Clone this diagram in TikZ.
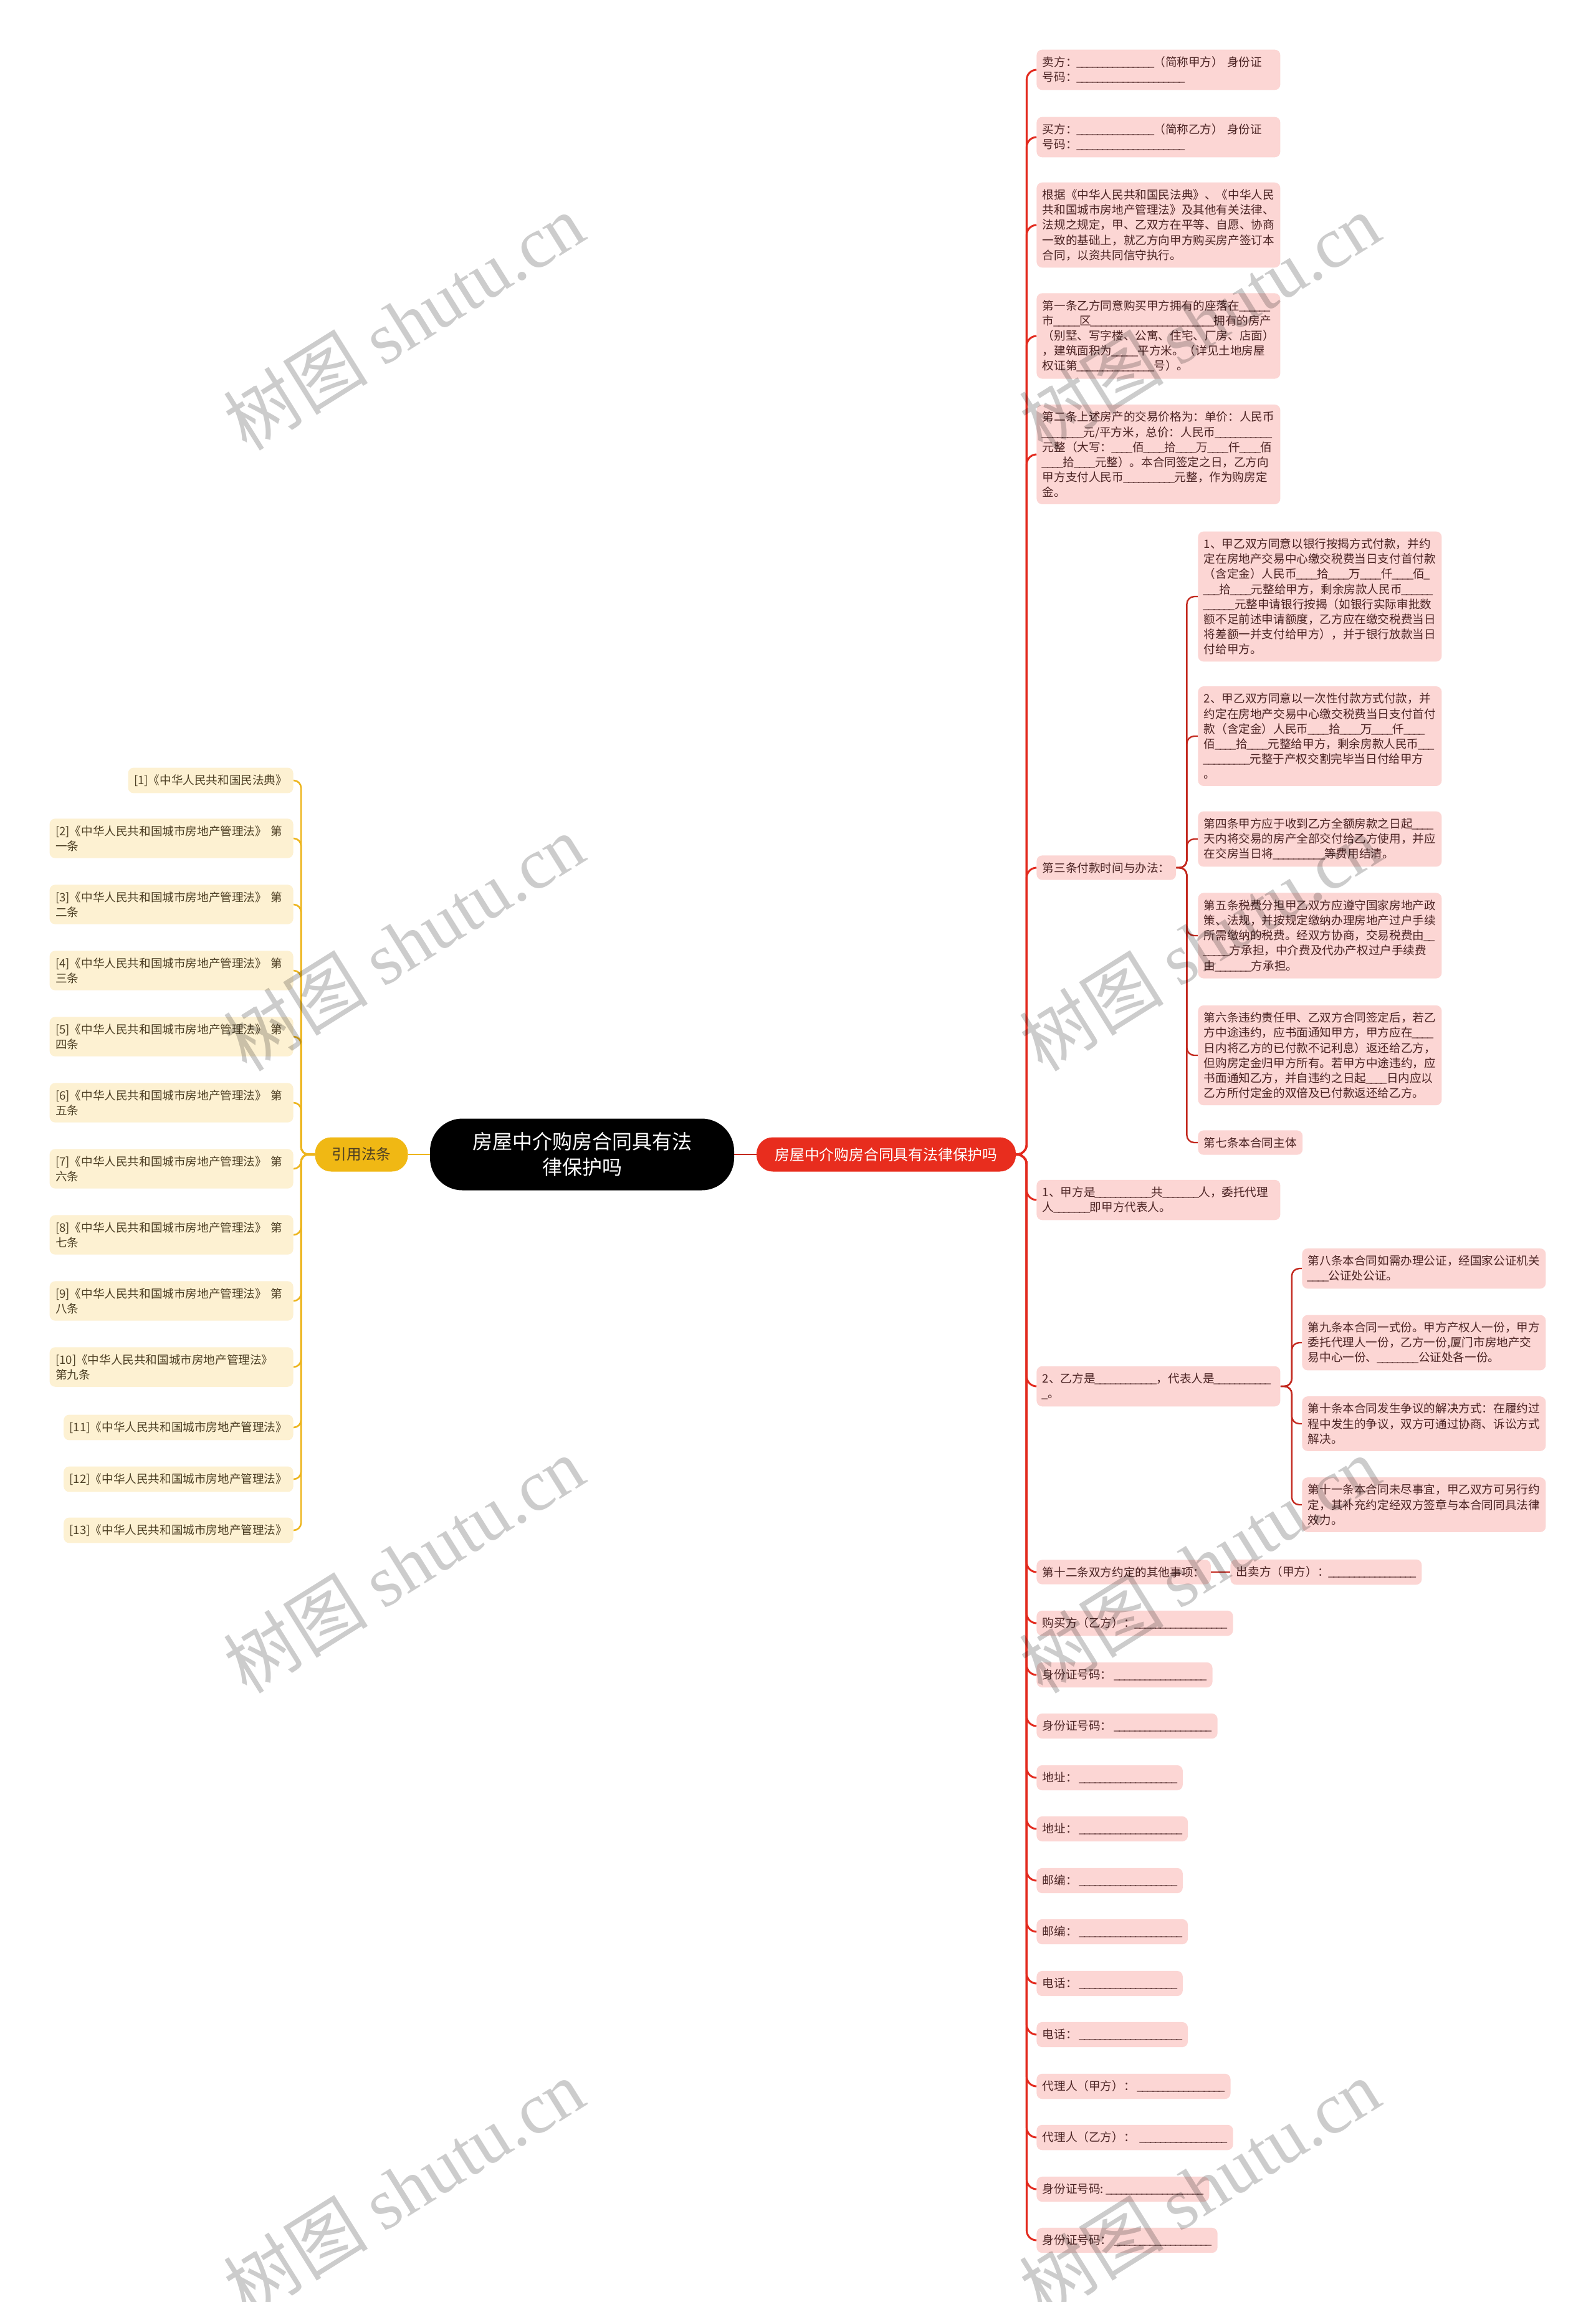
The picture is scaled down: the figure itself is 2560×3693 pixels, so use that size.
\documentclass[tikz,border=0pt]{standalone}
\usepackage{fontspec}
\setmainfont{Noto Sans CJK SC}
\newfontfamily\wmserif{Liberation Serif}
\usetikzlibrary{backgrounds}
\definecolor{pinkfill}{HTML}{FCD6D4}
\definecolor{pinktext}{HTML}{4B2323}
\definecolor{ylwfill}{HTML}{FDF1D2}
\definecolor{ylwtext}{HTML}{4D3F24}
\definecolor{mainred}{HTML}{E32A1E}
\definecolor{subred}{HTML}{C3291F}
\definecolor{nodered}{HTML}{E82D1E}
\definecolor{nodeylw}{HTML}{F0B814}
\definecolor{lineylw}{HTML}{EDB51C}
\newcount\blcnt
\newcommand\bl[1]{\blcnt=#1\relax\loop\ifnum\blcnt>0 \makebox[0.44em][c]{\char95}\advance\blcnt by -1\relax\repeat}
\tikzset{
  pbox/.style={fill=pinkfill, text=pinktext, rounded corners=4.5pt, font=\fontsize{9.3}{12.1}\selectfont, inner xsep=4.75pt, inner ysep=5.5pt, align=left, anchor=west},
  pwide/.style={pbox, text width=186pt},
  ybox/.style={fill=ylwfill, text=ylwtext, rounded corners=4.5pt, font=\fontsize{9.3}{12.1}\selectfont, inner xsep=4.75pt, inner ysep=5.5pt, align=left, anchor=east},
  ywide/.style={ybox, text width=186pt},
  rootbox/.style={fill=black, text=white, rounded corners=26pt, minimum width=244pt, minimum height=57.5pt, font=\fontsize{16}{20.5}\selectfont, align=center, inner sep=0pt},
  rednode/.style={fill=nodered, text=white, rounded corners=13pt, minimum width=208pt, minimum height=27.5pt, font=\fontsize{11.9}{14}\selectfont, inner sep=0pt},
  ylwnode/.style={fill=nodeylw, text=ylwtext, rounded corners=13pt, minimum width=74.5pt, minimum height=27.5pt, font=\fontsize{11.8}{14}\selectfont, inner sep=0pt},
  mainline/.style={draw=mainred, line width=1.5pt, rounded corners=8pt},
  subline/.style={draw=subred, line width=1.2pt, rounded corners=6pt},
  ylwline/.style={draw=lineylw, line width=1.3pt, rounded corners=6pt},
  rootline/.style={draw=subred, line width=1.2pt},
  rootyline/.style={draw=lineylw, line width=1.2pt},
  wm/.style={rotate=32, text=black, text opacity=0.2, font=\fontsize{58}{58}\selectfont, inner sep=0pt},
}
\begin{document}
\begin{tikzpicture}[x=0.5pt,y=-0.5pt]
\useasboundingbox (0,0) rectangle (2560,3693);

% centre
\node[rootbox] (root) at (934,1852) {房屋中介购房合同具有法\\律保护吗};
\node[rednode] (rnode) at (1422,1852) {房屋中介购房合同具有法律保护吗};
\node[ylwnode] (ynode) at (580,1852) {引用法条};

% right branch
\node[pwide] (r1) at (1663,112) {卖方：\bl{15}（简称甲方）~身份证\\号码：\bl{21}};
\node[pwide] (r2) at (1663,220) {买方：\bl{15}（简称乙方）~身份证\\号码：\bl{21}};
\node[pwide] (r3) at (1663,361) {根据《中华人民共和国民法典》、《中华人民\\共和国城市房地产管理法》及其他有关法律、\\法规之规定，甲、乙双方在平等、自愿、协商\\一致的基础上，就乙方向甲方购买房产签订本\\合同，以资共同信守执行。};
\node[pwide] (r4) at (1663,539) {第一条乙方同意购买甲方拥有的座落在\bl{6}\\市\bl{5}区\bl{24}拥有的房产\\（别墅、写字楼、公寓、住宅、厂房、店面）\\，建筑面积为\bl{5}平方米。（详见土地房屋\\权证第\bl{15}号）。};
\node[pwide] (r5) at (1663,729) {第二条上述房产的交易价格为：单价：人民币\\\bl{8}元/平方米，总价：人民币\bl{11}\\元整（大写：\bl{4}佰\bl{4}拾\bl{4}万\bl{4}仟\bl{4}佰\\\bl{4}拾\bl{4}元整）。本合同签定之日，乙方向\\甲方支付人民币\bl{10}元整，作为购房定\\金。};
\node[pbox] (r6) at (1663,1392) {第三条付款时间与办法：};
\node[pwide] (s1) at (1922,957) {1、甲乙双方同意以银行按揭方式付款，并约\\定在房地产交易中心缴交税费当日支付首付款\\（含定金）人民币\bl{4}拾\bl{4}万\bl{4}仟\bl{4}佰\bl{1}\\\bl{3}拾\bl{4}元整给甲方，剩余房款人民币\bl{6}\\\bl{6}元整申请银行按揭（如银行实际审批数\\额不足前述申请额度，乙方应在缴交税费当日\\将差额一并支付给甲方），并于银行放款当日\\付给甲方。};
\node[pwide] (s2) at (1922,1181) {2、甲乙双方同意以一次性付款方式付款，并\\约定在房地产交易中心缴交税费当日支付首付\\款（含定金）人民币\bl{4}拾\bl{4}万\bl{4}仟\bl{4}\\佰\bl{4}拾\bl{4}元整给甲方，剩余房款人民币\bl{3}\\\bl{9}元整于产权交割完毕当日付给甲方\\。};
\node[pwide] (s3) at (1922,1346) {第四条甲方应于收到乙方全额房款之日起\bl{4}\\天内将交易的房产全部交付给乙方使用，并应\\在交房当日将\bl{10}等费用结清。};
\node[pwide] (s4) at (1922,1501) {第五条税费分担甲乙双方应遵守国家房地产政\\策、法规，并按规定缴纳办理房地产过户手续\\所需缴纳的税费。经双方协商，交易税费由\bl{2}\\\bl{5}方承担，中介费及代办产权过户手续费\\由\bl{7}方承担。};
\node[pwide] (s5) at (1922,1693) {第六条违约责任甲、乙双方合同签定后，若乙\\方中途违约，应书面通知甲方，甲方应在\bl{4}\\日内将乙方的已付款不记利息）返还给乙方，\\但购房定金归甲方所有。若甲方中途违约，应\\书面通知乙方，并自违约之日起\bl{4}日内应以\\乙方所付定金的双倍及已付款返还给乙方。};
\node[pbox] (s6) at (1922,1833) {第七条本合同主体};
\node[pwide] (r7) at (1663,1925) {1、甲方是\bl{11}共\bl{7}人，委托代理\\人\bl{7}即甲方代表人。};
\node[pwide] (r8) at (1663,2224) {2、乙方是\bl{12}，代表人是\bl{11}\\\bl{1}。};
\node[pwide] (t1) at (2089,2035) {第八条本合同如需办理公证，经国家公证机关\\\bl{4}公证处公证。};
\node[pwide] (t2) at (2089,2154) {第九条本合同一式份。甲方产权人一份，甲方\\委托代理人一份，乙方一份,厦门市房地产交\\易中心一份、\bl{8}公证处各一份。};
\node[pwide] (t3) at (2089,2284) {第十条本合同发生争议的解决方式：在履约过\\程中发生的争议，双方可通过协商、诉讼方式\\解决。};
\node[pwide] (t4) at (2089,2414) {第十一条本合同未尽事宜，甲乙双方可另行约\\定，其补充约定经双方签章与本合同同具法律\\效力。};
\node[pbox] (r9) at (1663,2522) {第十二条双方约定的其他事项：};
\node[pbox] (r9b) at (1974,2522) {出卖方（甲方）：\bl{17}};
\node[pbox] (r10) at (1663,2604) {购买方（乙方）：\bl{18}};
\node[pbox] (r11) at (1663,2687) {身份证号码：~\bl{18}};
\node[pbox] (r12) at (1663,2769) {身份证号码：~\bl{19}};
\node[pbox] (r13) at (1663,2852) {地址：~\bl{19}};
\node[pbox] (r14) at (1663,2934) {地址：~\bl{20}};
\node[pbox] (r15) at (1663,3017) {邮编：~\bl{19}};
\node[pbox] (r16) at (1663,3099) {邮编：~\bl{20}};
\node[pbox] (r17) at (1663,3182) {电话：~\bl{19}};
\node[pbox] (r18) at (1663,3264) {电话：~\bl{20}};
\node[pbox] (r19) at (1663,3347) {代理人（甲方）：~\bl{17}};
\node[pbox] (r20) at (1663,3429) {代理人（乙方）：~~\bl{17}};
\node[pbox] (r21) at (1663,3512) {身份证号码:~\bl{19}};
\node[pbox] (r22) at (1663,3594) {身份证号码：~\bl{19}};

% left branch
\node[ybox] (l1) at (471,1252) {[1]《中华人民共和国民法典》};
\node[ywide] (l2) at (471,1345) {[2]《中华人民共和国城市房地产管理法》~第\\一条};
\node[ywide] (l3) at (471,1451) {[3]《中华人民共和国城市房地产管理法》~第\\二条};
\node[ywide] (l4) at (471,1557) {[4]《中华人民共和国城市房地产管理法》~第\\三条};
\node[ywide] (l5) at (471,1663) {[5]《中华人民共和国城市房地产管理法》~第\\四条};
\node[ywide] (l6) at (471,1769) {[6]《中华人民共和国城市房地产管理法》~第\\五条};
\node[ywide] (l7) at (471,1875) {[7]《中华人民共和国城市房地产管理法》~第\\六条};
\node[ywide] (l8) at (471,1981) {[8]《中华人民共和国城市房地产管理法》~第\\七条};
\node[ywide] (l9) at (471,2087) {[9]《中华人民共和国城市房地产管理法》~第\\八条};
\node[ywide] (l10) at (471,2193) {[10]《中华人民共和国城市房地产管理法》\\第九条};
\node[ybox] (l11) at (471,2290) {[11]《中华人民共和国城市房地产管理法》};
\node[ybox] (l12) at (471,2373) {[12]《中华人民共和国城市房地产管理法》};
\node[ybox] (l13) at (471,2455) {[13]《中华人民共和国城市房地产管理法》};

\begin{pgfonlayer}{background}
\fill[white] (0,0) rectangle (2560,3693);
\draw[rootline] (root.east) -- (rnode.west);
\draw[rootyline] (root.west) -- (ynode.east);
\foreach \c in {r1,r2,r3,r4,r5,r6,r7,r8,r9,r10,r11,r12,r13,r14,r15,r16,r17,r18,r19,r20,r21,r22}
  \draw[mainline] (rnode.east) -- ++(17,0) |- (\c.west);
\foreach \c in {s1,s2,s3,s4,s5,s6}
  \draw[subline] (r6.east) -- ++(17,0) |- (\c.west);
\foreach \c in {t1,t2,t3,t4}
  \draw[subline] (r8.east) -- ++(18,0) |- (\c.west);
\draw[subline] (r9.east) -- (r9b.west);
\foreach \c in {l1,l2,l3,l4,l5,l6,l7,l8,l9,l10,l11,l12,l13}
  \draw[ylwline] (ynode.west) -- ++(-22,0) |- (\c.east);
\end{pgfonlayer}

% watermarks
\node[wm] (wm1) at (648,516) {树图 {\wmserif shutu.cn}};
\node[wm] (wm2) at (648,1512) {树图 {\wmserif shutu.cn}};
\node[wm] (wm3) at (648,2510) {树图 {\wmserif shutu.cn}};
\node[wm] (wm4) at (648,3509) {树图 {\wmserif shutu.cn}};
\node[wm] (wm5) at (1925,516) {树图 {\wmserif shutu.cn}};
\node[wm] (wm6) at (1925,1512) {树图 {\wmserif shutu.cn}};
\node[wm] (wm7) at (1925,2510) {树图 {\wmserif shutu.cn}};
\node[wm] (wm8) at (1925,3509) {树图 {\wmserif shutu.cn}};
\end{tikzpicture}
\end{document}
